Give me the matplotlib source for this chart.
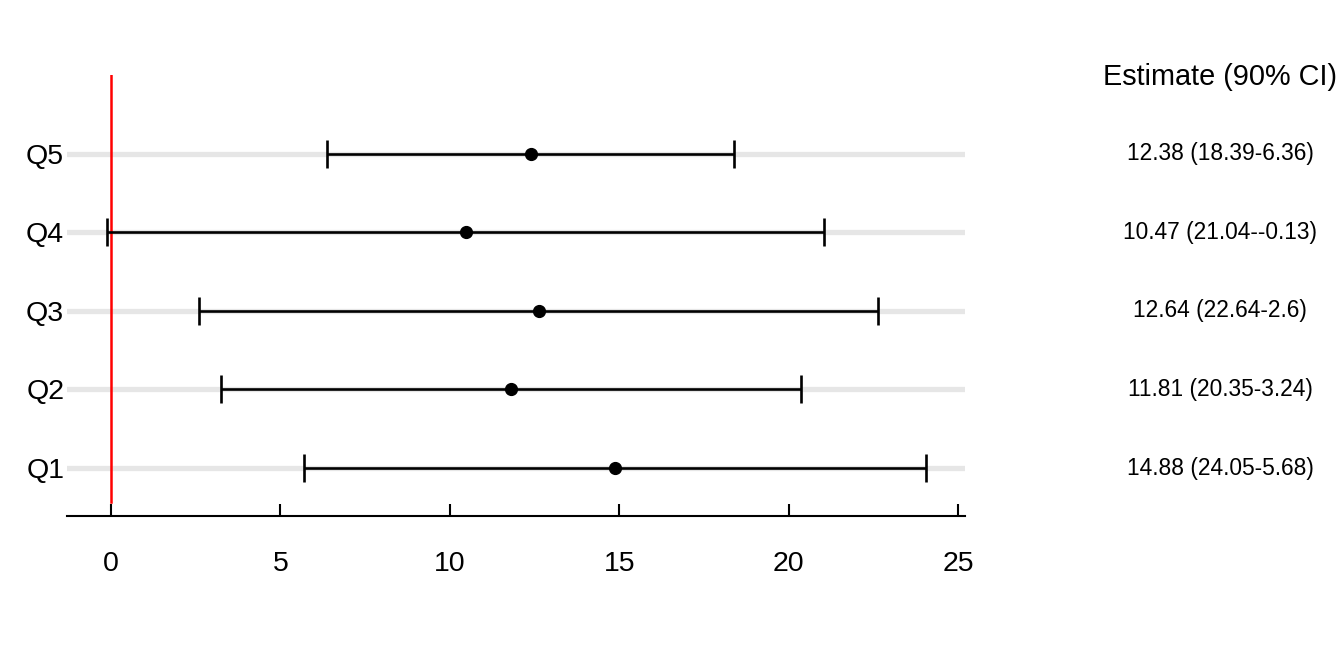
import matplotlib.pyplot as plt

plt.rcParams['font.family'] = ['Liberation Sans', 'DejaVu Sans']

labels = ["Q1", "Q2", "Q3", "Q4", "Q5"]
estimate = [14.88, 11.81, 12.64, 10.47, 12.38]
upper = [24.05, 20.35, 22.64, 21.04, 18.39]
lower = [5.68, 3.24, 2.6, -0.13, 6.36]
ci_text = ["14.88 (24.05-5.68)", "11.81 (20.35-3.24)", "12.64 (22.64-2.6)",
           "10.47 (21.04--0.13)", "12.38 (18.39-6.36)"]
xticks = [0, 5, 10, 15, 20, 25]

ypos = list(range(1, len(labels) + 1))
err_lo = [e - l for e, l in zip(estimate, lower)]
err_hi = [u - e for e, u in zip(estimate, upper)]

fig = plt.figure(figsize=(13.44, 6.72), dpi=100)
ax = fig.add_axes([67 / 1344, 1 - 516 / 672, 898 / 1344, 441 / 672])

# grey row lines
for y in ypos:
    ax.axhline(y, color="#e6e6e6", lw=3.8, zorder=0)

ax.axvline(0, ymin=0.032, ymax=1, color="red", lw=1.8, zorder=1)

ax.errorbar(estimate, ypos, xerr=[err_lo, err_hi], fmt="o", color="black",
            ms=8.5, lw=1.9, capsize=10, capthick=1.9, zorder=3)

ax.set_xlim(-1.3, 25.2)
ax.set_ylim(0.39, 6.0)
ax.set_xticks(xticks)
ax.set_yticks(ypos)
ax.set_yticklabels(labels)

for s in ["top", "right", "left"]:
    ax.spines[s].set_visible(False)
ax.spines["bottom"].set_linewidth(1.5)
ax.tick_params(axis="x", direction="in", length=9, width=1.5, pad=25, labelsize=20.5)
ax.tick_params(axis="y", length=0, pad=2, labelsize=20.5)

tr = ax.get_yaxis_transform()
ax.text(1.284, 5.97, "Estimate (90% CI)", transform=tr, ha="center", va="center",
        fontsize=20.8, clip_on=False)
for y, t in zip(ypos, ci_text):
    ax.text(1.284, y, t, transform=tr, ha="center", va="center",
            fontsize=16.4, clip_on=False)

fig.savefig("out.png", dpi=100)
